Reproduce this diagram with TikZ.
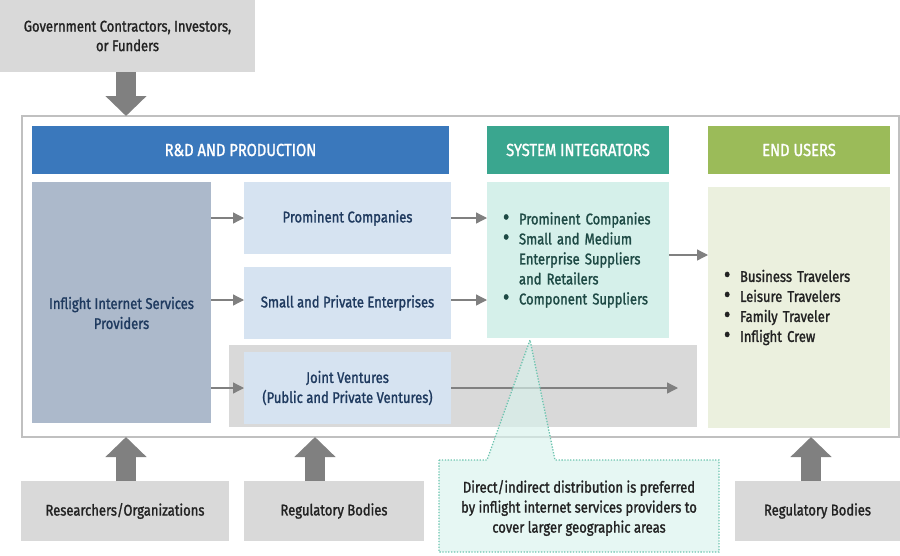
\documentclass[tikz,border=0pt]{standalone}
\usepackage{fontspec}
\setmainfont{Fira Sans}[FakeStretch=0.84,FakeBold=1.4]
\usetikzlibrary{arrows.meta,calc}
\definecolor{boxgray}{HTML}{D9D9D9}
\definecolor{framegray}{HTML}{C0C0C0}
\definecolor{arrowgray}{HTML}{808080}
\definecolor{hdrblue}{HTML}{3A78BC}
\definecolor{hdrteal}{HTML}{3AA68F}
\definecolor{hdrgreen}{HTML}{9BBB59}
\definecolor{ispfill}{HTML}{ACB9CB}
\definecolor{lightblue}{HTML}{D6E3F1}
\definecolor{mint}{HTML}{D5F0EA}
\definecolor{paleg}{HTML}{EBF0DE}
\definecolor{navy}{HTML}{1F3A5F}
\definecolor{darkteal}{HTML}{1E4A45}
\definecolor{txtdark}{HTML}{222222}
\definecolor{callfill}{HTML}{D8F2EC}
\definecolor{callline}{HTML}{6CC4AF}
\tikzset{
  plainbox/.style={inner sep=0pt, outer sep=0pt, draw=none},
  graybox/.style={plainbox, fill=boxgray, text=txtdark, align=center, font=\fontsize{15.5}{19.5}\selectfont},
  hdr/.style={plainbox, text=white, font=\fontsize{17.5}{20}\selectfont, minimum height=48pt},
  bluebox/.style={plainbox, fill=lightblue, text=navy, align=center, minimum width=207pt, minimum height=72pt, font=\fontsize{15.5}{20}\selectfont},
  txt/.style={inner sep=0pt, align=center, font=\fontsize{15.5}{20}\selectfont},
  thinarrow/.style={draw=arrowgray, line width=1.3pt, -{Triangle[length=11pt,width=11pt]}},
  bigarrow/.style={draw=arrowgray, line width=20pt, -{Triangle[length=20pt,width=40pt]}},
  bullets/.style={plainbox, align=left, text width=150pt, minimum width=182pt, font=\fontsize{15.5}{20}\selectfont},
}
\newcommand{\bul}{\makebox[16pt][l]{\raisebox{-0.5pt}{\scalebox{1.5}{•}}}}
\newcommand{\nobul}{\makebox[16pt][l]{}}
\begin{document}
\begin{tikzpicture}[x=1pt,y=-1pt]
\useasboundingbox (0,0) rectangle (900,555);
% top source
\node[graybox, minimum width=255pt, minimum height=72pt] (gov) at (127.5,36)
  {\raisebox{-2pt}{\parbox{250pt}{\centering Government Contractors, Investors,\\ or Funders}}};
% outer frame
\node[plainbox, draw=framegray, line width=1.2pt, fill=white, minimum width=877pt, minimum height=321pt] (frame) at (460.5,276.5) {};
\draw[bigarrow] (126,72) -- (126,0 |- frame.north);
% headers
\node[hdr, fill=hdrblue, minimum width=417pt] (rdh) at (240.5,150) {R\&D AND PRODUCTION};
\node[hdr, fill=hdrteal, minimum width=182pt] (sih) at (578,150) {SYSTEM INTEGRATORS};
\node[hdr, fill=hdrgreen, minimum width=182pt] (euh) at (799,150) {END USERS};
% gray band
\node[plainbox, fill=boxgray, minimum width=468pt, minimum height=82pt] (band) at (463,386) {};
% left provider
\node[plainbox, fill=ispfill, minimum width=179pt, minimum height=241pt] (isp) at (121.5,302.5) {};
\node[txt, text=navy] (isptext) at (121.5,313) {Inflight Internet Services\\ Providers};
% R&D boxes
\node[bluebox] (pc) at (347.5,218) {Prominent Companies};
\node[bluebox] (spe) at (347.5,303) {Small and Private Enterprises};
\node[bluebox] (jv) at (347.5,388) {Joint Ventures\\ (Public and Private Ventures)};
% system integrators content
\node[bullets, fill=mint, text=darkteal, minimum height=156pt] (sic) at (578,260)
  {\bul Prominent Companies\\ \bul Small and Medium\\ \nobul Enterprise Suppliers\\ \nobul and Retailers\\ \bul Component Suppliers};
% end users content
\node[bullets, fill=paleg, text=txtdark, minimum height=241pt] (euc) at (799,307.5)
  {\bul Business Travelers\\ \bul Leisure Travelers\\ \bul Family Traveler\\ \bul Inflight Crew};
% thin arrows
\draw[thinarrow] (isp.east |- pc.west) -- (pc.west);
\draw[thinarrow] (isp.east |- 0,300) -- (spe.west |- 0,300);
\draw[thinarrow] (isp.east |- jv.west) -- (jv.west);
\draw[thinarrow] (pc.east) -- (sic.west |- pc.east);
\draw[thinarrow] (spe.east |- 0,300) -- (sic.west |- 0,300);
\draw[thinarrow] (sic.east |- 0,255) -- (euc.west |- 0,255);
\coordinate (jvend) at (678,388);
\draw[thinarrow] (jv.east) -- (jvend);
% bottom sources
\node[graybox, minimum width=208pt, minimum height=60pt] (res) at (125,511) {Researchers/Organizations};
\node[graybox, minimum width=180pt, minimum height=60pt] (reg1) at (334,511) {Regulatory Bodies};
\node[graybox, minimum width=165pt, minimum height=60pt] (reg2) at (817.5,511) {Regulatory Bodies};
\draw[bigarrow] (126,0 |- res.north) -- (126,0 |- frame.south);
\draw[bigarrow] (315,0 |- reg1.north) -- (315,0 |- frame.south);
\draw[bigarrow] (811,0 |- reg2.north) -- (811,0 |- frame.south);
% callout
\coordinate (tip) at (530,340);
\path[fill=callfill, fill opacity=0.65, draw=callline, line width=1.3pt, dash pattern=on 1.3pt off 1.6pt]
  (439,460) -- (487,460) -- (tip) -- (555,460) -- (719,460) -- (719,552) -- (439,552) -- cycle;
\node[txt, text=txtdark] (callout) at (579,508) {Direct/indirect distribution is preferred\\ by inflight internet services providers to\\ cover larger geographic areas};
\end{tikzpicture}
\end{document}
